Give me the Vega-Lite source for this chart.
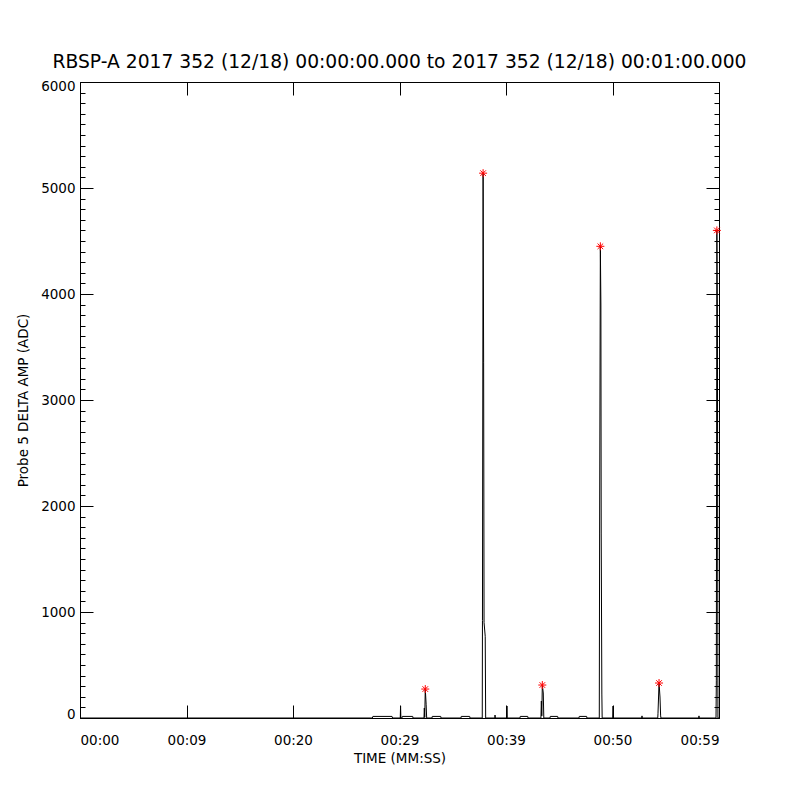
{
  "$schema": "https://vega.github.io/schema/vega-lite/v6.json",
  "width": 639,
  "height": 636,
  "autosize": "none",
  "padding": {"left": 80, "top": 82, "right": 81, "bottom": 82},
  "background": "white",
  "title": {
    "text": "RBSP-A 2017 352 (12/18) 00:00:00.000 to 2017 352 (12/18) 00:01:00.000",
    "font": "DejaVu Sans",
    "fontSize": 18.7,
    "fontWeight": "normal",
    "color": "black",
    "anchor": "middle",
    "offset": 7
  },
  "config": {
    "view": {"stroke": null},
    "axis": {
      "labelFont": "DejaVu Sans",
      "labelFontSize": 13.5,
      "labelColor": "black",
      "titleFont": "DejaVu Sans",
      "titleFontSize": 13.5,
      "titleFontWeight": "normal",
      "titleColor": "black",
      "tickColor": "black",
      "domainColor": "black",
      "domainWidth": 1,
      "tickWidth": 1,
      "grid": false,
      "zindex": 1
    }
  },
  "datasets": {
    "line": [
      {"t": 0, "v": 0},
      {"t": 27.45, "v": 0}, {"t": 27.5, "v": 15}, {"t": 29.3, "v": 15}, {"t": 29.35, "v": 0},
      {"t": 30.07, "v": 0}, {"t": 30.1, "v": 113}, {"t": 30.13, "v": 0},
      {"t": 30.23, "v": 0}, {"t": 30.26, "v": 15}, {"t": 31.24, "v": 15}, {"t": 31.27, "v": 0},
      {"t": 32.3, "v": 0}, {"t": 32.33, "v": 94}, {"t": 32.37, "v": 5}, {"t": 32.42, "v": 273}, {"t": 32.5, "v": 130}, {"t": 32.55, "v": 0},
      {"t": 33.05, "v": 0}, {"t": 33.08, "v": 15}, {"t": 33.87, "v": 15}, {"t": 33.9, "v": 0},
      {"t": 35.77, "v": 0}, {"t": 35.8, "v": 15}, {"t": 36.59, "v": 15}, {"t": 36.62, "v": 0},
      {"t": 37.77, "v": 0}, {"t": 37.79, "v": 920}, {"t": 37.85, "v": 5140}, {"t": 37.9, "v": 3350}, {"t": 37.94, "v": 900}, {"t": 38.05, "v": 770}, {"t": 38.09, "v": 0},
      {"t": 38.95, "v": 0}, {"t": 38.97, "v": 28}, {"t": 39.0, "v": 0},
      {"t": 40.06, "v": 0}, {"t": 40.09, "v": 113}, {"t": 40.12, "v": 0},
      {"t": 41.31, "v": 0}, {"t": 41.34, "v": 15}, {"t": 42.04, "v": 15}, {"t": 42.07, "v": 0},
      {"t": 43.28, "v": 0}, {"t": 43.32, "v": 160}, {"t": 43.36, "v": 20}, {"t": 43.41, "v": 311}, {"t": 43.5, "v": 236}, {"t": 43.55, "v": 0},
      {"t": 44.13, "v": 0}, {"t": 44.16, "v": 15}, {"t": 44.85, "v": 15}, {"t": 44.88, "v": 0},
      {"t": 46.85, "v": 0}, {"t": 46.88, "v": 15}, {"t": 47.57, "v": 15}, {"t": 47.6, "v": 0},
      {"t": 48.76, "v": 0}, {"t": 48.79, "v": 1745}, {"t": 48.86, "v": 4450}, {"t": 48.91, "v": 3896}, {"t": 48.94, "v": 1745}, {"t": 49.0, "v": 226}, {"t": 49.03, "v": 0},
      {"t": 50.02, "v": 0}, {"t": 50.05, "v": 113}, {"t": 50.08, "v": 0},
      {"t": 52.74, "v": 0}, {"t": 52.77, "v": 20}, {"t": 52.8, "v": 0},
      {"t": 54.25, "v": 0}, {"t": 54.27, "v": 40}, {"t": 54.37, "v": 330}, {"t": 54.46, "v": 198}, {"t": 54.52, "v": 20}, {"t": 54.55, "v": 0},
      {"t": 58.09, "v": 0}, {"t": 58.12, "v": 20}, {"t": 58.15, "v": 0},
      {"t": 59.72, "v": 0}, {"t": 59.75, "v": 350}, {"t": 59.8, "v": 4600}, {"t": 59.85, "v": 3820}, {"t": 59.9, "v": 0}, {"t": 60, "v": 0}
    ],
    "stars": [
      {"t": 32.42, "v": 273},
      {"t": 37.85, "v": 5140},
      {"t": 43.41, "v": 311},
      {"t": 48.86, "v": 4450},
      {"t": 54.37, "v": 330},
      {"t": 59.8, "v": 4600}
    ]
  },
  "layer": [
    {
      "data": {"name": "line"},
      "mark": {"type": "line", "color": "black", "strokeWidth": 1, "interpolate": "linear"},
      "encoding": {
        "x": {
          "field": "t", "type": "quantitative",
          "scale": {"domain": [0, 60], "nice": false, "zero": false},
          "axis": {
            "orient": "bottom",
            "values": [0, 10, 20, 30, 40, 50, 60],
            "labelExpr": "['00:00','00:09','00:20','00:29','00:39','00:50','00:59'][round(datum.value/10)]",
            "ticks": false,
            "labelPadding": 15,
            "title": "TIME (MM:SS)",
            "titlePadding": 5
          }
        },
        "y": {
          "field": "v", "type": "quantitative",
          "scale": {"domain": [0, 6000], "nice": false},
          "axis": {
            "orient": "left",
            "values": [0, 1000, 2000, 3000, 4000, 5000, 6000],
            "format": "d",
            "ticks": false,
            "labelPadding": 5,
            "labelFlush": true,
            "labelFlushOffset": 3,
            "title": "Probe 5 DELTA AMP (ADC)",
            "titlePadding": 10
          }
        }
      }
    },
    {
      "data": {"name": "stars"},
      "mark": {
        "type": "point",
        "shape": "M-1,0L1,0M0,-1L0,1M-0.7,-0.7L0.7,0.7M-0.7,0.7L0.7,-0.7",
        "filled": false,
        "stroke": "#ff0000",
        "strokeWidth": 1,
        "size": 64,
        "opacity": 1
      },
      "encoding": {
        "x": {
          "field": "t", "type": "quantitative",
          "axis": {
            "orient": "top",
            "offset": -636,
            "values": [0, 10, 20, 30, 40, 50, 60],
            "labels": false,
            "domain": false,
            "tickSize": 13,
            "title": null
          }
        },
        "y": {
          "field": "v", "type": "quantitative",
          "axis": {
            "orient": "right",
            "offset": -639,
            "values": [0, 1000, 2000, 3000, 4000, 5000, 6000],
            "labels": false,
            "domain": false,
            "tickSize": 13,
            "title": null
          }
        }
      }
    },
    {
      "data": {"name": "line"},
      "mark": {"type": "line", "strokeOpacity": 0},
      "encoding": {
        "x": {
          "field": "t", "type": "quantitative",
          "axis": {
            "orient": "bottom",
            "offset": -636,
            "values": [0, 10, 20, 30, 40, 50, 60],
            "labels": false,
            "domain": true,
            "tickSize": 13,
            "title": null
          }
        },
        "y": {
          "field": "v", "type": "quantitative",
          "axis": {
            "orient": "right",
            "offset": -639,
            "values": [0,100,200,300,400,500,600,700,800,900,1000,1100,1200,1300,1400,1500,1600,1700,1800,1900,2000,2100,2200,2300,2400,2500,2600,2700,2800,2900,3000,3100,3200,3300,3400,3500,3600,3700,3800,3900,4000,4100,4200,4300,4400,4500,4600,4700,4800,4900,5000,5100,5200,5300,5400,5500,5600,5700,5800,5900,6000],
            "labels": false,
            "domain": false,
            "tickSize": 5,
            "title": null
          }
        }
      }
    },
    {
      "data": {"name": "line"},
      "mark": {"type": "line", "strokeOpacity": 0},
      "encoding": {
        "x": {"field": "t", "type": "quantitative", "axis": null},
        "y": {
          "field": "v", "type": "quantitative",
          "axis": {
            "orient": "left",
            "offset": -639,
            "values": [0, 1000, 2000, 3000, 4000, 5000, 6000],
            "labels": false,
            "domain": true,
            "tickSize": 13,
            "title": null
          }
        }
      }
    },
    {
      "data": {"name": "line"},
      "mark": {"type": "line", "strokeOpacity": 0},
      "encoding": {
        "x": {"field": "t", "type": "quantitative", "axis": null},
        "y": {
          "field": "v", "type": "quantitative",
          "axis": {
            "orient": "left",
            "offset": -639,
            "values": [0,100,200,300,400,500,600,700,800,900,1000,1100,1200,1300,1400,1500,1600,1700,1800,1900,2000,2100,2200,2300,2400,2500,2600,2700,2800,2900,3000,3100,3200,3300,3400,3500,3600,3700,3800,3900,4000,4100,4200,4300,4400,4500,4600,4700,4800,4900,5000,5100,5200,5300,5400,5500,5600,5700,5800,5900,6000],
            "labels": false,
            "domain": false,
            "tickSize": 5,
            "title": null
          }
        }
      }
    }
  ],
  "resolve": {"axis": {"x": "independent", "y": "independent"}}
}
